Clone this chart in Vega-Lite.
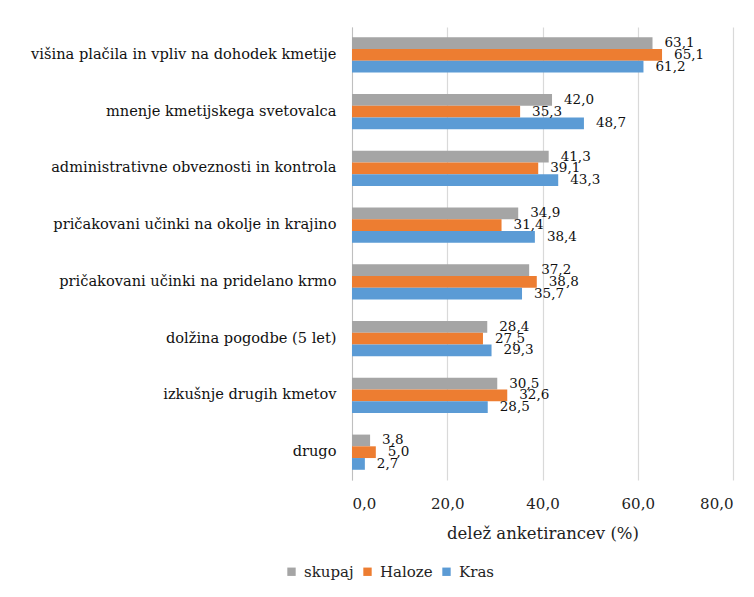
{
  "$schema": "https://vega.github.io/schema/vega-lite/v6.json",
  "autosize": "none",
  "width": 381,
  "height": 453,
  "padding": {"left": 352, "top": 27, "right": 21, "bottom": 117},
  "background": "white",
  "data": {
    "values": [
      {"kat": "višina plačila in vpliv na dohodek kmetije", "serija": "skupaj", "v": 63.1},
      {"kat": "višina plačila in vpliv na dohodek kmetije", "serija": "Haloze", "v": 65.1},
      {"kat": "višina plačila in vpliv na dohodek kmetije", "serija": "Kras", "v": 61.2},
      {"kat": "mnenje kmetijskega svetovalca", "serija": "skupaj", "v": 42.0},
      {"kat": "mnenje kmetijskega svetovalca", "serija": "Haloze", "v": 35.3},
      {"kat": "mnenje kmetijskega svetovalca", "serija": "Kras", "v": 48.7},
      {"kat": "administrativne obveznosti in kontrola", "serija": "skupaj", "v": 41.3},
      {"kat": "administrativne obveznosti in kontrola", "serija": "Haloze", "v": 39.1},
      {"kat": "administrativne obveznosti in kontrola", "serija": "Kras", "v": 43.3},
      {"kat": "pričakovani učinki na okolje in krajino", "serija": "skupaj", "v": 34.9},
      {"kat": "pričakovani učinki na okolje in krajino", "serija": "Haloze", "v": 31.4},
      {"kat": "pričakovani učinki na okolje in krajino", "serija": "Kras", "v": 38.4},
      {"kat": "pričakovani učinki na pridelano krmo", "serija": "skupaj", "v": 37.2},
      {"kat": "pričakovani učinki na pridelano krmo", "serija": "Haloze", "v": 38.8},
      {"kat": "pričakovani učinki na pridelano krmo", "serija": "Kras", "v": 35.7},
      {"kat": "dolžina pogodbe (5 let)", "serija": "skupaj", "v": 28.4},
      {"kat": "dolžina pogodbe (5 let)", "serija": "Haloze", "v": 27.5},
      {"kat": "dolžina pogodbe (5 let)", "serija": "Kras", "v": 29.3},
      {"kat": "izkušnje drugih kmetov", "serija": "skupaj", "v": 30.5},
      {"kat": "izkušnje drugih kmetov", "serija": "Haloze", "v": 32.6},
      {"kat": "izkušnje drugih kmetov", "serija": "Kras", "v": 28.5},
      {"kat": "drugo", "serija": "skupaj", "v": 3.8},
      {"kat": "drugo", "serija": "Haloze", "v": 5.0},
      {"kat": "drugo", "serija": "Kras", "v": 2.7}
    ]
  },
  "encoding": {
    "y": {
      "field": "kat",
      "type": "nominal",
      "sort": null,
      "title": null,
      "scale": {"paddingInner": 0.38, "paddingOuter": 0.18},
      "axis": {
        "domain": true,
        "domainColor": "#bfbfbf",
        "ticks": false,
        "labelPadding": 16,
        "labelFont": "DejaVu Serif",
        "labelFontSize": 14.6,
        "labelColor": "#111111",
        "labelLimit": 400
      }
    },
    "yOffset": {
      "field": "serija",
      "type": "nominal",
      "sort": ["skupaj", "Haloze", "Kras"]
    },
    "x": {
      "field": "v",
      "type": "quantitative",
      "title": "delež anketirancev (%)",
      "scale": {"domain": [0, 80], "nice": false},
      "axis": {
        "values": [0, 20, 40, 60, 80],
        "format": ".1f",
        "domain": false,
        "ticks": false,
        "grid": true,
        "gridColor": "#d9d9d9",
        "gridWidth": 1.2,
        "labelPadding": 16,
        "labelFont": "DejaVu Serif",
        "labelFontSize": 15,
        "labelColor": "#222222",
        "titleFont": "DejaVu Serif",
        "titleFontSize": 16.5,
        "titleFontWeight": "normal",
        "titleColor": "#222222",
        "titlePadding": 14
      }
    }
  },
  "layer": [
    {
      "mark": {"type": "bar"},
      "encoding": {
        "color": {
          "field": "serija",
          "type": "nominal",
          "sort": ["skupaj", "Haloze", "Kras"],
          "scale": {"domain": ["skupaj", "Haloze", "Kras"], "range": ["#a5a5a5", "#ed7d31", "#5b9bd5"]},
          "legend": {
            "title": null,
            "orient": "none",
            "legendX": -68,
            "legendY": 537,
            "direction": "horizontal",
            "symbolType": "square",
            "symbolSize": 70,
            "symbolStrokeWidth": 0,
            "labelOffset": 5,
            "labelFont": "DejaVu Serif",
            "labelFontSize": 15,
            "labelColor": "#222222",
            "columnPadding": 6
          }
        }
      }
    },
    {
      "mark": {
        "type": "text",
        "align": "left",
        "baseline": "middle",
        "dx": 12,
        "font": "DejaVu Serif",
        "fontSize": 13.5,
        "color": "#111111"
      },
      "encoding": {
        "text": {"field": "v", "type": "quantitative", "format": ".1f"}
      }
    }
  ],
  "config": {
    "view": {"stroke": null},
    "locale": {
      "number": {"decimal": ",", "thousands": ".", "grouping": [3], "currency": ["", " €"]}
    }
  }
}
